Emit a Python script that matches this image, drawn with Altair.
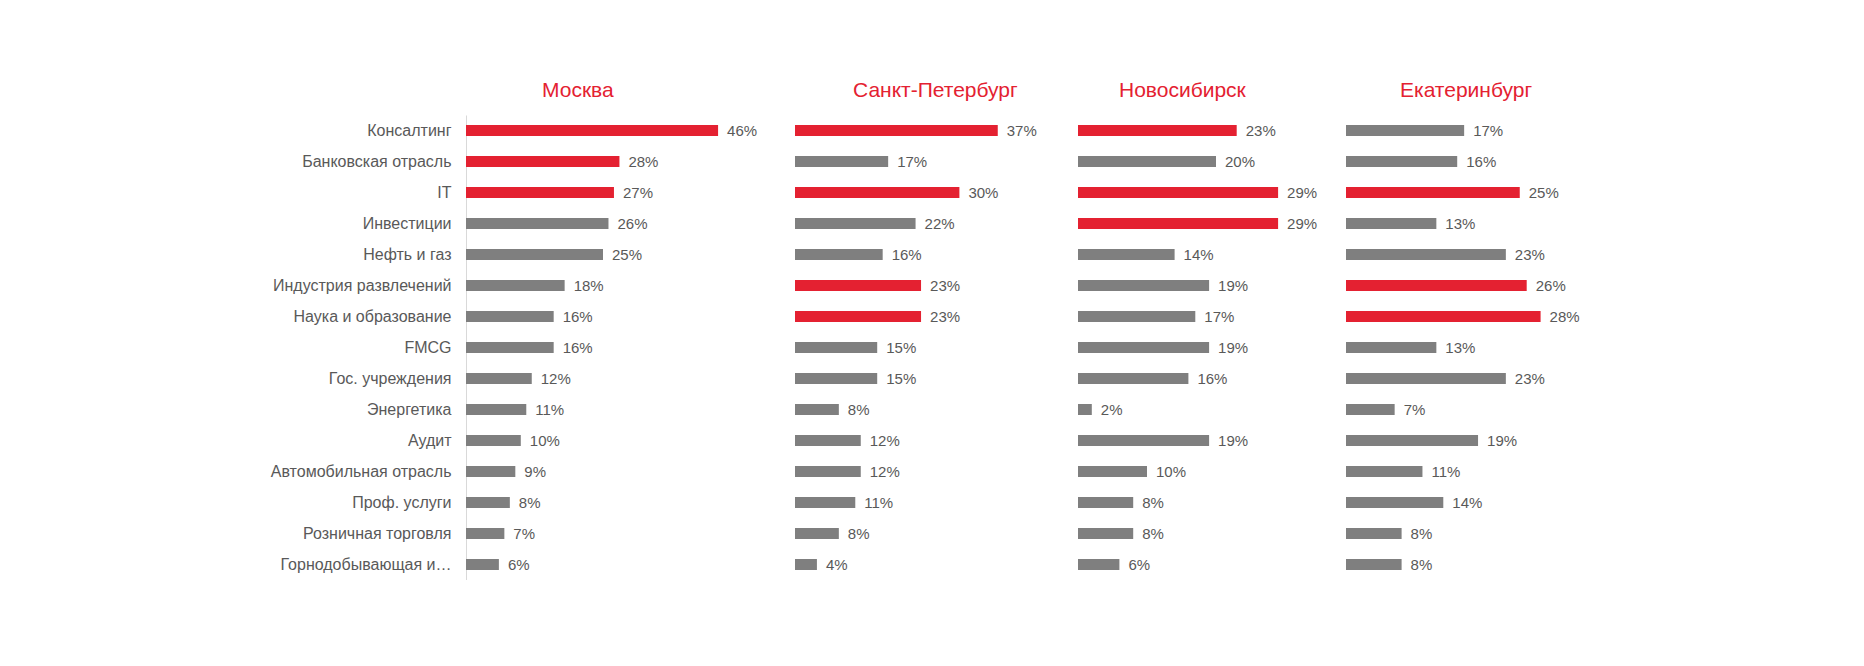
import altair as alt
import pandas as pd

categories = [
    "Консалтинг",
    "Банковская отрасль",
    "IT",
    "Инвестиции",
    "Нефть и газ",
    "Индустрия развлечений",
    "Наука и образование",
    "FMCG",
    "Гос. учреждения",
    "Энергетика",
    "Аудит",
    "Автомобильная отрасль",
    "Проф. услуги",
    "Розничная торговля",
    "Горнодобывающая и…",
]
cities = ["Москва", "Санкт-Петербург", "Новосибирск", "Екатеринбург"]
moscow = [46, 28, 27, 26, 25, 18, 16, 16, 12, 11, 10, 9, 8, 7, 6]
spb = [37, 17, 30, 22, 16, 23, 23, 15, 15, 8, 12, 12, 11, 8, 4]
novosibirsk = [23, 20, 29, 29, 14, 19, 17, 19, 16, 2, 19, 10, 8, 8, 6]
ekaterinburg = [17, 16, 25, 13, 23, 26, 28, 13, 23, 7, 19, 11, 14, 8, 8]
series = [moscow, spb, novosibirsk, ekaterinburg]

RED = "#E42131"
GRAY = "#7F7F7F"
TXT = "#595959"
FONT = "Liberation Sans"

widths = [329, 283, 268, 268]
px_per_pct = [5.48, 5.48, 6.9, 6.95]
title_dx = [76, 58, 41, 54]

panels = []
for i, city in enumerate(cities):
    vals = series[i]
    third = sorted(vals, reverse=True)[2]
    df = pd.DataFrame({
        "cat": categories,
        "v": vals,
        "hl": ["hi" if v >= third else "lo" for v in vals],
        "lbl": [f"{v}%" for v in vals],
    })
    if i == 0:
        yaxis = alt.Axis(title=None, ticks=False, domain=True, domainColor="#D9D9D9",
                         domainWidth=1, labelFontSize=16, labelColor=TXT, labelFont=FONT,
                         labelPadding=15, labelLimit=300, grid=False)
    else:
        yaxis = None
    y = alt.Y("cat:N", sort=categories, axis=yaxis,
              scale=alt.Scale(paddingInner=0, paddingOuter=0))
    x = alt.X("v:Q", axis=None,
              scale=alt.Scale(domain=[0, widths[i] / px_per_pct[i]], nice=False, zero=True))
    base = alt.Chart(df)
    bars = base.mark_bar(size=11).encode(
        x=x, y=y,
        color=alt.Color("hl:N", scale=alt.Scale(domain=["hi", "lo"], range=[RED, GRAY]), legend=None),
    )
    text = base.mark_text(align="left", baseline="middle", dx=9, fontSize=15,
                          color=TXT, font=FONT).encode(x=x, y=y, text="lbl:N")
    panel = alt.layer(bars, text).properties(
        width=widths[i], height=465,
        title=alt.TitleParams(city, anchor="start", frame="group", dx=title_dx[i], fontSize=21,
                              color=RED, font=FONT, fontWeight="normal", offset=14),
    )
    panels.append(panel)

chart = alt.hconcat(*panels, spacing=0).properties(
    padding={"left": 262, "top": 72, "right": 0, "bottom": 0},
    background="white",
).configure_view(stroke="transparent", strokeWidth=0)

chart.save("out.html", embed_options={"renderer": "svg", "actions": False})
